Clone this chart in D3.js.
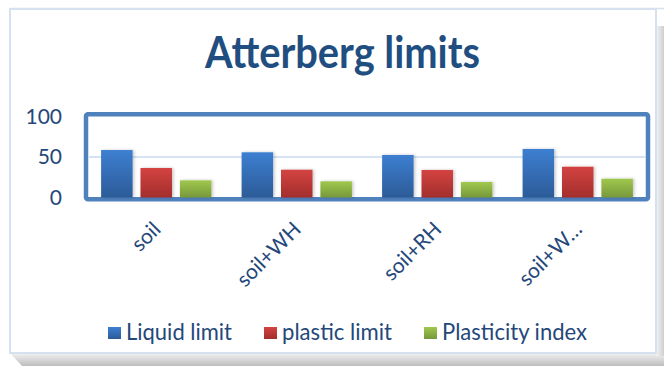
<!DOCTYPE html>
<html>
<head>
<meta charset="utf-8">
<script src="https://cdn.jsdelivr.net/npm/d3@7/dist/d3.min.js"></script>
<style>
  html, body { margin: 0; padding: 0; background: #ffffff; }
  svg { display: block; }
  text { font-family: Lato, "Open Sans", "Noto Sans", sans-serif; }
</style>
</head>
<body>
<svg id="chart" width="664" height="366"></svg>
<script>
// Atterberg limits of the soil mixes
const categories = ["soil", "soil+WH", "soil+RH", "soil+W…"];
const seriesNames = ["Liquid limit", "plastic limit", "Plasticity index"];
const liquidLimit = [58.6, 55.8, 52.5, 59.9];
const plasticLimit = [36.4, 34.3, 34.0, 38.0];
const plasticityIndex = [21.2, 20.0, 19.1, 23.2];
const yTicks = [0, 50, 100];

const seriesValues = [liquidLimit, plasticLimit, plasticityIndex];
const seriesColors = [
  { top: "#3d7fd1", bottom: "#2c5b98", key: "blue" },
  { top: "#d44341", bottom: "#a22e2c", key: "red" },
  { top: "#a0c84e", bottom: "#77983a", key: "green" }
];

const svg = d3.select("#chart");
const defs = svg.append("defs");

seriesColors.forEach(c => {
  const g = defs.append("linearGradient")
    .attr("id", "grad-" + c.key).attr("x1", 0).attr("y1", 0).attr("x2", 0).attr("y2", 1);
  g.append("stop").attr("offset", "0%").attr("stop-color", c.top);
  g.append("stop").attr("offset", "100%").attr("stop-color", c.bottom);
});

const shadowB = defs.append("linearGradient").attr("id", "shadow-b")
  .attr("x1", 0).attr("y1", 0).attr("x2", 0).attr("y2", 1);
shadowB.append("stop").attr("offset", "0%").attr("stop-color", "#f2f2f2");
shadowB.append("stop").attr("offset", "100%").attr("stop-color", "#bdbdbd");
const shadowR = defs.append("linearGradient").attr("id", "shadow-r")
  .attr("x1", 0).attr("y1", 0).attr("x2", 1).attr("y2", 0);
shadowR.append("stop").attr("offset", "0%").attr("stop-color", "#f4f4f4");
shadowR.append("stop").attr("offset", "100%").attr("stop-color", "#cfcfcf");

const barShadow = defs.append("filter").attr("id", "bar-shadow")
  .attr("x", "-20%").attr("y", "-10%").attr("width", "150%").attr("height", "130%");
barShadow.append("feDropShadow").attr("dx", 1.5).attr("dy", 0)
  .attr("stdDeviation", 1.5).attr("flood-color", "#000").attr("flood-opacity", 0.22);

// chart box with its soft shadow
svg.append("path")
  .attr("d", "M10,353 L664,353 L664,366 L22,366 Z")
  .attr("fill", "url(#shadow-b)");
svg.append("rect").attr("x", 656).attr("y", 26).attr("width", 8).attr("height", 330)
  .attr("fill", "url(#shadow-r)");
svg.append("rect").attr("x", 10).attr("y", 9).attr("width", 646).attr("height", 344)
  .attr("fill", "#ffffff").attr("stroke", "#d5e1ee").attr("stroke-width", 2);
svg.append("line").attr("x1", 10).attr("x2", 664).attr("y1", 8.5).attr("y2", 8.5)
  .attr("stroke", "#d5e1ee").attr("stroke-width", 1.5);

// title
svg.append("text")
  .attr("x", 342.5).attr("y", 68)
  .attr("text-anchor", "middle")
  .attr("font-size", 44).attr("font-weight", 700)
  .attr("fill", "#214e80")
  .attr("textLength", 275).attr("lengthAdjust", "spacingAndGlyphs")
  .text("Atterberg limits");

// scales
const x0 = d3.scaleBand().domain(categories).range([86, 648]).padding(0);
const x1 = d3.scaleBand().domain(d3.range(seriesNames.length))
  .range([15.1, 125.4]).paddingInner(0.2).paddingOuter(0);
const y = d3.scaleLinear().domain([0, 100]).range([197.5, 116.5]);

// plot frame
svg.append("rect")
  .attr("x", 86).attr("y", 114.3).attr("width", 562).attr("height", 85)
  .attr("rx", 2)
  .attr("fill", "#ffffff").attr("stroke", "#4f81bd").attr("stroke-width", 4.5);

// gridline at 50
svg.append("line")
  .attr("x1", 89).attr("x2", 645).attr("y1", y(50)).attr("y2", y(50))
  .attr("stroke", "#c9daef").attr("stroke-width", 1.5);

// y axis labels
const yAxis = d3.axisLeft(y).tickValues(yTicks).tickSize(0).tickPadding(0);
const gy = svg.append("g").attr("transform", "translate(62,0)").call(yAxis);
gy.select(".domain").remove();
gy.selectAll("text")
  .attr("font-size", 21).attr("fill", "#24487a")
  .attr("font-family", "Lato, 'Open Sans', sans-serif");

// bars
const groups = svg.append("g").selectAll("g")
  .data(categories).join("g")
  .attr("transform", d => `translate(${x0(d)},0)`);

groups.selectAll("rect")
  .data((d, i) => seriesValues.map((vals, s) => ({ s, v: vals[i] })))
  .join("rect")
  .attr("x", d => x1(d.s))
  .attr("width", x1.bandwidth())
  .attr("y", d => y(d.v))
  .attr("height", d => y(0) - y(d.v))
  .attr("fill", d => `url(#grad-${seriesColors[d.s].key})`)
  .attr("filter", "url(#bar-shadow)");

// x axis labels, rotated
svg.append("g").selectAll("text")
  .data(categories).join("text")
  .attr("transform", d => `translate(${x0(d) + x0.bandwidth() / 2 - 5},220) rotate(-45)`)
  .attr("text-anchor", "end")
  .attr("dy", "0.72em")
  .attr("font-size", 21)
  .attr("fill", "#24487a")
  .text(d => d);

// legend
const legendX = [108, 264, 424];
const legendTextLen = [106, 110, 145];
const legend = svg.append("g").selectAll("g")
  .data(seriesNames).join("g")
  .attr("transform", (d, i) => `translate(${legendX[i]},0)`);
legend.append("rect")
  .attr("x", 0).attr("y", 327).attr("width", 13).attr("height", 12)
  .attr("fill", (d, i) => `url(#grad-${seriesColors[i].key})`);
legend.append("text")
  .attr("x", 18).attr("y", 340)
  .attr("font-size", 24)
  .attr("fill", "#24487a")
  .attr("textLength", (d, i) => legendTextLen[i])
  .attr("lengthAdjust", "spacingAndGlyphs")
  .text(d => d);
</script>
</body>
</html>
